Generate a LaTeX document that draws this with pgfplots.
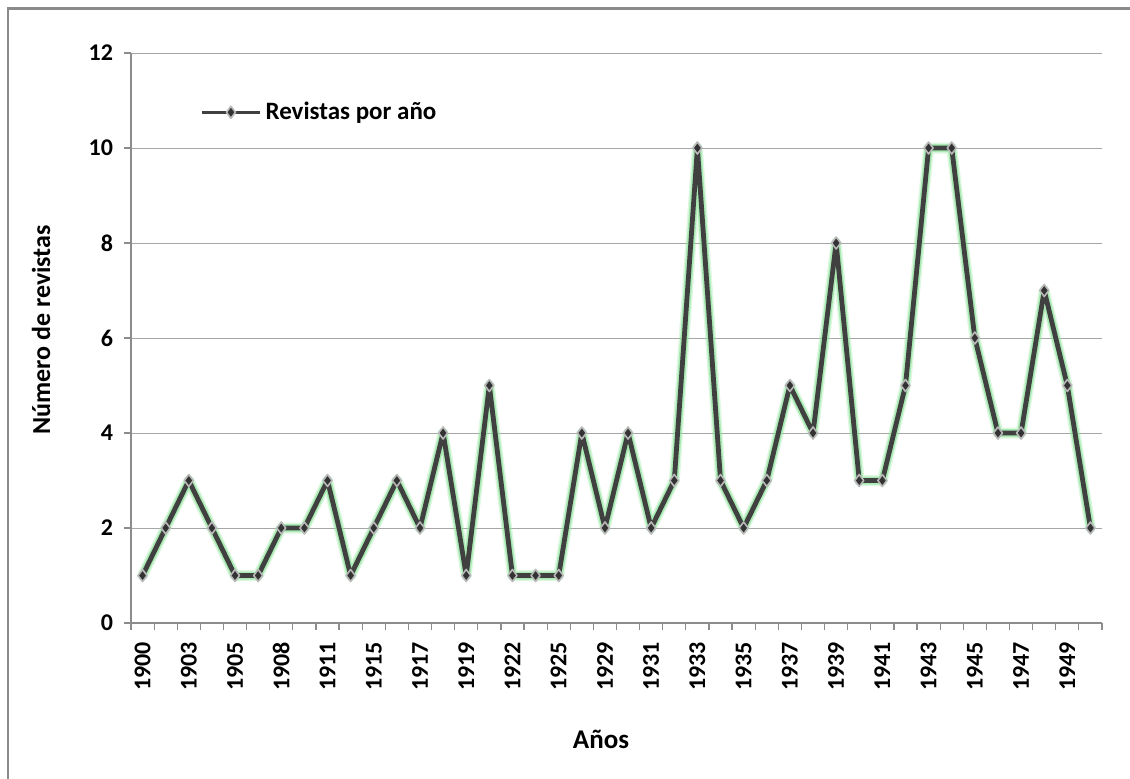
\documentclass[border=0pt]{standalone}
\usepackage{fontspec}
\setmainfont{Carlito}
\usepackage{pgfplots}
\pgfplotsset{compat=1.18}

\definecolor{serie}{HTML}{404040}
\definecolor{halo}{HTML}{8EE39A}
\definecolor{rejilla}{HTML}{A6A6A6}
\definecolor{eje}{HTML}{8C8C8C}
\definecolor{marco}{HTML}{8A8A8A}

% revistas por año (categorías 0..41)
\pgfplotstableread{
x y
0 1
1 2
2 3
3 2
4 1
5 1
6 2
7 2
8 3
9 1
10 2
11 3
12 2
13 4
14 1
15 5
16 1
17 1
18 1
19 4
20 2
21 4
22 2
23 3
24 10
25 3
26 2
27 3
28 5
29 4
30 8
31 3
32 3
33 5
34 10
35 10
36 6
37 4
38 4
39 7
40 5
41 2
}\revistas

\begin{document}
\begin{tikzpicture}
\useasboundingbox (-65.5pt,-77.5pt) rectangle (499.5pt,311.5pt);
\draw[marco, line width=1.4pt] (-61.5pt,-90pt) -- (-61.5pt,307.3pt) -- (520pt,307.3pt);
\begin{axis}[
  at={(0,0)}, anchor=south west,
  scale only axis, width=485.5pt, height=285pt,
  xmin=-0.5, xmax=41.5, ymin=0, ymax=12,
  ytick={0,2,...,12},
  xtick={0,2,...,40},
  xticklabels={1900,1903,1905,1908,1911,1915,1917,1919,1922,1925,1929,1931,1933,1935,1937,1939,1941,1943,1945,1947,1949},
  minor xtick={-0.5,0.5,...,41.5},
  major x tick style={draw=none},
  tick align=outside, major tick length=3.5pt, minor tick length=3.5pt,
  tick style={eje, line width=0.6pt},
  axis x line*=bottom, axis y line*=left,
  axis line style={eje, line width=0.6pt, -},
  ymajorgrids, major grid style={rejilla, line width=0.5pt},
  /pgf/number format/assume math mode=true,
  ticklabel style={font=\fontsize{12}{14}\selectfont\bfseries},
  xticklabel style={rotate=90, anchor=east, xshift=-2.5pt},
  yticklabel style={xshift=-2pt},
  xlabel={Años}, ylabel={Número de revistas},
  every axis x label/.style={at={(axis description cs:0.484,0)}, yshift=-58pt, anchor=center,
    font=\fontsize{13.5}{16}\selectfont\bfseries},
  every axis y label/.style={at={(axis description cs:0,0.514)}, xshift=-45pt, rotate=90, anchor=center,
    font=\fontsize{13}{16}\selectfont\bfseries},
  legend style={draw=none, fill=none, at={(rel axis cs:0.071,0.896)}, anchor=west,
    inner sep=0pt, font=\fontsize{12.5}{15}\selectfont\bfseries},
  legend cell align=left,
  legend image code/.code={\draw[#1, line width=1.6pt, mark repeat=2, mark phase=2]
    plot coordinates {(0pt,0pt) (14.5pt,0pt) (29pt,0pt)};},
  clip=false,
]
\addplot[halo, line width=5.5pt, opacity=0.3, line join=round, line cap=round, forget plot] table[x=x,y=y] {\revistas};
\addplot[halo, line width=4pt, opacity=0.65, line join=round, line cap=round, forget plot] table[x=x,y=y] {\revistas};
\addplot[serie, line width=2.4pt, line join=round,
  mark=diamond*, mark size=3pt,
  mark options={fill=black!80, draw=black!28, line width=0.8pt}] table[x=x,y=y] {\revistas};
\addlegendentry{Revistas por año}
\end{axis}
\end{tikzpicture}
\end{document}
